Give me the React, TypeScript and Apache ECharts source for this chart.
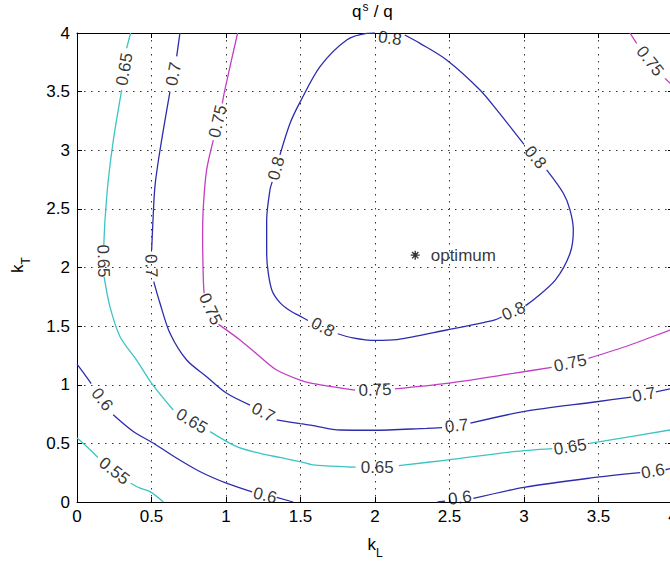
import React, { useEffect, useRef } from "react";
import * as echarts from "echarts";

// ---- axis ticks ----
const xTicks = [0, 0.5, 1, 1.5, 2, 2.5, 3, 3.5, 4];
const yTicks = [0, 0.5, 1, 1.5, 2, 2.5, 3, 3.5, 4];

// ---- contour levels ----
const levelTexts = ["0.55", "0.6", "0.65", "0.7", "0.75", "0.8"];

// each contour: list of line pieces [kL, kT] (gaps where the inline labels sit)
const c055Segments = [
  [[0, 0.545], [0.05, 0.49], [0.1, 0.43], [0.14, 0.38]],
  [[0.36, 0.16], [0.42, 0.12], [0.49, 0.088], [0.58, 0]],
];
// inline labels: [kL, kT, angle]
const c055Labels = [[0.25, 0.265, -38]];

const c060Segments = [
  [[0, 1.175], [0.05, 1.09], [0.095, 1.01]],
  [[0.243, 0.745], [0.378, 0.602], [0.524, 0.493], [0.67, 0.373], [0.827, 0.258], [1.007, 0.158], [1.175, 0.086]],
  [[1.34, 0.04], [1.45, 0]],
  [[2.42, 0], [2.47, 0.008]],
  [[2.66, 0.03], [3.0, 0.125], [3.45, 0.205], [3.78, 0.25]],
  [[3.95, 0.275], [4.0, 0.29]],
];
const c060Labels = [[0.168, 0.875, -52], [1.262, 0.055, -14], [2.57, 0.035, 8], [3.865, 0.262, 10]];

const c065Segments = [
  [[0.36, 4.0], [0.333, 3.87]],
  [[0.3, 3.514], [0.244, 3.087], [0.21, 2.746], [0.188, 2.405], [0.18, 2.19]],
  [[0.182, 1.92], [0.221, 1.666], [0.289, 1.41], [0.4, 1.21], [0.501, 1.012], [0.646, 0.785]],
  [[0.893, 0.6], [1.072, 0.472], [1.228, 0.415], [1.362, 0.38], [1.497, 0.345], [1.586, 0.316], [1.81, 0.3], [1.87, 0.298]],
  [[2.16, 0.31], [2.481, 0.358], [2.928, 0.429], [3.19, 0.455]],
  [[3.44, 0.5], [3.98, 0.614], [4.0, 0.618]],
];
const c065Labels = [[0.318, 3.69, 80], [0.177, 2.055, -88], [0.77, 0.69, -31], [2.015, 0.295, 0], [3.31, 0.47, 9]];

const c070Segments = [
  [[0.691, 4.0], [0.669, 3.8]],
  [[0.624, 3.5], [0.557, 3.0], [0.523, 2.69], [0.508, 2.348], [0.501, 2.15]],
  [[0.515, 1.88], [0.557, 1.695], [0.624, 1.439], [0.736, 1.211], [0.87, 1.069], [1.005, 0.927], [1.161, 0.827]],
  [[1.34, 0.7], [1.497, 0.668], [1.586, 0.652], [1.765, 0.614], [1.989, 0.612], [2.347, 0.628], [2.45, 0.634]],
  [[2.64, 0.672], [2.995, 0.77], [3.488, 0.855], [3.72, 0.895]],
  [[3.885, 0.94], [4.0, 0.97]],
];
const c070Labels = [[0.648, 3.65, 79], [0.497, 2.015, -88], [1.25, 0.763, -27], [2.548, 0.65, 6], [3.805, 0.915, 11]];

const c075Segments = [
  [[1.078, 4.0], [0.993, 3.52], [0.975, 3.4]],
  [[0.915, 3.087], [0.87, 2.832], [0.848, 2.519], [0.843, 2.263], [0.848, 1.893], [0.853, 1.78]],
  [[0.95, 1.515], [1.094, 1.382], [1.228, 1.239], [1.34, 1.126], [1.497, 1.04], [1.586, 1.01], [1.866, 0.955]],
  [[2.134, 0.965], [2.481, 1.012], [2.928, 1.097], [3.186, 1.149]],
  [[3.432, 1.225], [3.711, 1.339], [3.98, 1.467], [4.0, 1.475]],
  [[3.711, 4.0], [3.756, 3.912]],
  [[3.946, 3.613], [4.0, 3.55]],
];
const c075Labels = [[0.945, 3.245, 77], [0.895, 1.645, -65], [2.0, 0.955, 2], [3.31, 1.185, 12], [3.846, 3.76, -52]];

const c080Segments = [
  [[2.2, 3.983], [2.302, 3.912], [2.481, 3.77], [2.705, 3.514], [2.82, 3.34], [3.0, 3.05]],
  [[3.152, 2.832], [3.264, 2.633], [3.309, 2.49], [3.331, 2.32], [3.309, 2.121], [3.21, 1.893], [3.062, 1.723], [3.01, 1.675]],
  [[2.85, 1.578], [2.794, 1.55], [2.481, 1.467], [2.146, 1.385], [2.0, 1.378], [1.85, 1.4], [1.75, 1.435]],
  [[1.55, 1.548], [1.497, 1.585], [1.42, 1.64], [1.362, 1.7], [1.31, 1.8], [1.284, 1.95], [1.273, 2.12], [1.273, 2.405], [1.295, 2.661], [1.31, 2.73]],
  [[1.362, 2.96], [1.43, 3.23], [1.497, 3.41], [1.631, 3.713], [1.81, 3.94], [1.944, 3.997], [2.0, 4.0]],
];
const c080Labels = [[3.076, 2.94, -50], [2.93, 1.627, 24], [1.65, 1.49, -27], [1.337, 2.845, 75], [2.1, 3.955, -8]];

// optimum point
const optimumPoint = [2.27, 2.105];
const optimumText = "optimum";

// ---- styles ----
const CYAN = "#3cc4c4";
const BLUE = "#2c2cae";
const MAGENTA = "#c23ec2";
const FONT = "'Liberation Sans', Arial, Helvetica, sans-serif";

const contourDefs = [
  { segs: c055Segments, labels: c055Labels, text: levelTexts[0], color: CYAN },
  { segs: c060Segments, labels: c060Labels, text: levelTexts[1], color: BLUE },
  { segs: c065Segments, labels: c065Labels, text: levelTexts[2], color: CYAN },
  { segs: c070Segments, labels: c070Labels, text: levelTexts[3], color: BLUE },
  { segs: c075Segments, labels: c075Labels, text: levelTexts[4], color: MAGENTA },
  { segs: c080Segments, labels: c080Labels, text: levelTexts[5], color: BLUE },
];

const STAR =
  "path://M-4,-0.6L4,-0.6L4,0.6L-4,0.6Z" +
  "M-0.6,-4L0.6,-4L0.6,4L-0.6,4Z" +
  "M-2.4,-3.25L3.25,2.4L2.4,3.25L-3.25,-2.4Z" +
  "M-3.25,2.4L2.4,-3.25L3.25,-2.4L-2.4,3.25Z";

export default function App() {
  const ref = useRef<HTMLDivElement>(null);

  useEffect(() => {
    if (!ref.current) return;
    const chart = echarts.init(ref.current, undefined, { renderer: "svg" });

    const series: any[] = [];
    contourDefs.forEach((c) => {
      c.segs.forEach((seg) => {
        series.push({
          type: "line",
          data: seg,
          symbol: "none",
          showSymbol: false,
          smooth: 0.3,
          silent: true,
          z: 3,
          lineStyle: { color: c.color, width: 1.3 },
          emphasis: { disabled: true },
        });
      });
      series.push({
        type: "scatter",
        silent: true,
        z: 5,
        symbolSize: 1,
        itemStyle: { color: "rgba(0,0,0,0)" },
        emphasis: { disabled: true },
        label: {
          show: true,
          position: "inside",
          formatter: c.text,
          color: "#000",
          fontSize: 17,
          fontFamily: FONT,
        },
        data: c.labels.map((l) => ({ value: [l[0], l[1]], label: { rotate: l[2] } })),
      });
    });

    series.push({
      type: "scatter",
      silent: true,
      z: 6,
      symbol: STAR,
      symbolSize: 9,
      itemStyle: { color: "#000" },
      emphasis: { disabled: true },
      label: {
        show: true,
        position: "right",
        distance: 11,
        formatter: optimumText,
        color: "#000",
        fontSize: 17,
        fontFamily: FONT,
      },
      data: [optimumPoint],
    });

    const axisCommon = {
      type: "value",
      min: xTicks[0],
      max: xTicks[xTicks.length - 1],
      interval: 0.5,
      axisLine: { show: true, onZero: false, lineStyle: { color: "#000", width: 1 } },
      axisTick: { show: true, inside: true, length: 5, lineStyle: { color: "#000", width: 1 } },
    };

    chart.setOption({
      animation: false,
      backgroundColor: "#fff",
      grid: { left: 77, top: 33, width: 596, height: 469, containLabel: false, outerBoundsMode: "none" },
      xAxis: [
        {
          ...axisCommon,
          position: "bottom",
          axisLabel: { color: "#000", fontSize: 17, margin: 6, fontFamily: FONT },
          splitLine: { show: true, lineStyle: { color: "#333", width: 1, type: [1.5, 5.5] } },
        },
        {
          ...axisCommon,
          position: "top",
          axisLabel: { show: false },
          splitLine: { show: false },
        },
      ],
      yAxis: [
        {
          ...axisCommon,
          min: yTicks[0],
          max: yTicks[yTicks.length - 1],
          position: "left",
          axisLabel: { color: "#000", fontSize: 17, margin: 7, fontFamily: FONT },
          splitLine: { show: true, lineStyle: { color: "#333", width: 1, type: [1.5, 5.5] } },
        },
        {
          ...axisCommon,
          min: yTicks[0],
          max: yTicks[yTicks.length - 1],
          position: "right",
          axisLabel: { show: false },
          splitLine: { show: false },
        },
      ],
      graphic: [
        // title q^s / q
        { type: "text", x: 352, y: 11, style: { text: "q", fontSize: 17, fontFamily: FONT, fill: "#000", align: "left", verticalAlign: "middle" } },
        { type: "text", x: 362.5, y: 6.5, style: { text: "s", fontSize: 12, fontFamily: FONT, fill: "#000", align: "left", verticalAlign: "middle" } },
        { type: "text", x: 369, y: 11, style: { text: " / q", fontSize: 17, fontFamily: FONT, fill: "#000", align: "left", verticalAlign: "middle" } },
        // x axis name k_L
        { type: "text", x: 367.5, y: 544, style: { text: "k", fontSize: 17, fontFamily: FONT, fill: "#000", align: "left", verticalAlign: "middle" } },
        { type: "text", x: 376, y: 552.8, style: { text: "L", fontSize: 12, fontFamily: FONT, fill: "#000", align: "left", verticalAlign: "middle" } },
        // y axis name k_T (rotated)
        {
          type: "group",
          x: 23,
          y: 265,
          rotation: Math.PI / 2,
          children: [
            { type: "text", x: -8, y: -5.9, style: { text: "k", fontSize: 17, fontFamily: FONT, fill: "#000", align: "left", verticalAlign: "middle" } },
            { type: "text", x: 0.5, y: 2.8, style: { text: "T", fontSize: 12, fontFamily: FONT, fill: "#000", align: "left", verticalAlign: "middle" } },
          ],
        },
      ],
      series,
    });

    return () => chart.dispose();
  }, []);

  return (
    <div
      ref={ref}
      style={{ position: "fixed", left: 0, top: 0, width: 670, height: 561, background: "#fff" }}
    />
  );
}
